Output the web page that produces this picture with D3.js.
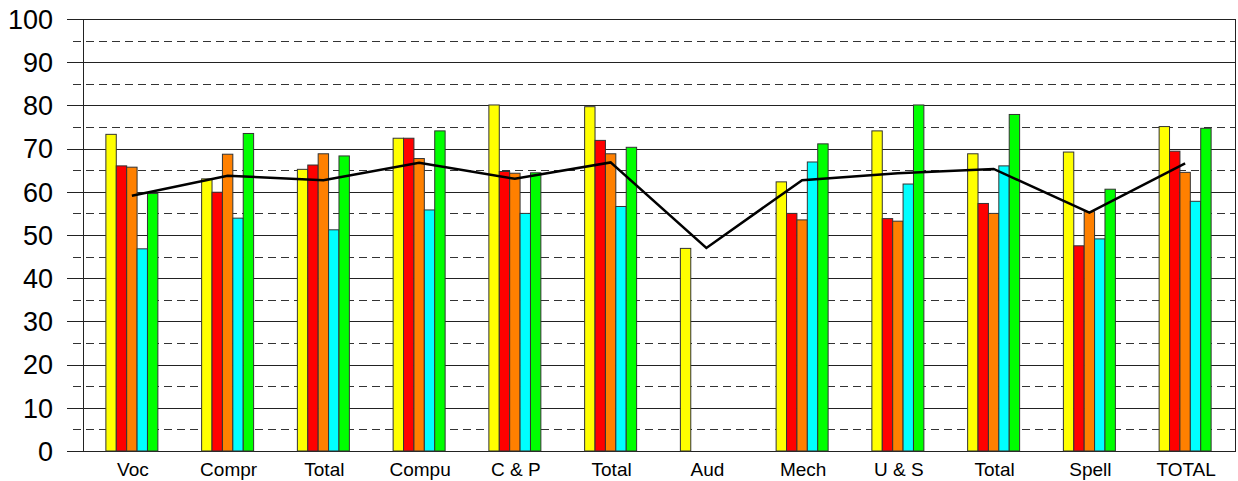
<!DOCTYPE html>
<html>
<head>
<meta charset="utf-8">
<script src="https://cdn.jsdelivr.net/npm/d3@7"></script>
<style>
  body { margin: 0; background: #fff; }
  text { font-family: "Liberation Sans", Arial, sans-serif; }
</style>
</head>
<body>
<div id="chart"></div>
<script>
var width = 1238;
var height = 481;

// data
var categories = ["Voc", "Compr", "Total", "Compu", "C & P", "Total", "Aud", "Mech", "U & S", "Total", "Spell", "TOTAL"];
var seriesNames = ["s1", "s2", "s3", "s4", "s5"];
var seriesColors = ["#ffff00", "#ff0000", "#ff8000", "#00ffff", "#00ff00"];
var s1 = [73.3, 63.0, 65.2, 72.4, 80.1, 79.7, 46.9, 62.3, 74.1, 68.8, 69.2, 75.1];
var s2 = [66.0, 59.9, 66.2, 72.4, 64.7, 71.9, null, 55.0, 53.8, 57.3, 47.5, 69.4];
var s3 = [65.7, 68.7, 68.8, 67.7, 64.3, 68.8, null, 53.5, 53.2, 55.0, 55.4, 64.5];
var s4 = [46.8, 53.9, 51.2, 55.8, 55.0, 56.6, null, 66.9, 61.8, 66.0, 49.1, 57.8];
var s5 = [59.6, 73.5, 68.3, 74.1, 64.4, 70.3, null, 71.1, 80.1, 77.9, 60.6, 74.7];
var lineValues = [59.1, 63.7, 62.7, 66.7, 63.0, 66.8, 47.0, 62.7, 64.3, 65.3, 55.2, 66.6];
var yTicks = [0, 10, 20, 30, 40, 50, 60, 70, 80, 90, 100];
var yHalfTicks = [5, 15, 25, 35, 45, 55, 65, 75, 85, 95];

var allSeries = [s1, s2, s3, s4, s5];

// plot box (window.top is reserved, so use other names)
var plotLeft = 83, plotRight = 1235, plotTop = 19, plotBottom = 451;

var svg = d3.select("#chart").append("svg")
  .attr("width", width)
  .attr("height", height);

var y = d3.scaleLinear().domain([0, 100]).range([plotBottom, plotTop]);
var x = d3.scaleBand().domain(d3.range(categories.length))
  .range([84, 1233])
  .paddingInner(0.457)
  .paddingOuter(0.2285);
var xs = d3.scaleBand().domain(d3.range(seriesNames.length)).range([0, x.bandwidth()]);

// dashed half gridlines
svg.append("g").selectAll("line")
  .data(yHalfTicks)
  .enter().append("line")
  .attr("x1", 73).attr("x2", plotRight)
  .attr("y1", function(d) { return Math.round(y(d)) + 0.5; })
  .attr("y2", function(d) { return Math.round(y(d)) + 0.5; })
  .style("stroke", "#333")
  .style("stroke-width", 1)
  .style("stroke-dasharray", "8,5");

// solid gridlines with ticks
svg.append("g").selectAll("line")
  .data(yTicks)
  .enter().append("line")
  .attr("x1", 67).attr("x2", plotRight)
  .attr("y1", function(d) { return Math.round(y(d)) + 0.5; })
  .attr("y2", function(d) { return Math.round(y(d)) + 0.5; })
  .style("stroke", "#222")
  .style("stroke-width", 1);

// frame
svg.append("rect")
  .attr("x", plotLeft + 0.5).attr("y", plotTop + 0.5)
  .attr("width", plotRight - plotLeft).attr("height", plotBottom - plotTop)
  .style("fill", "none")
  .style("stroke", "#222")
  .style("stroke-width", 1);

// y labels
svg.append("g").selectAll("text")
  .data(yTicks)
  .enter().append("text")
  .attr("x", 53)
  .attr("y", function(d) { return y(d); })
  .attr("dy", "0.36em")
  .attr("text-anchor", "end")
  .style("font-size", "27px")
  .style("fill", "#000")
  .text(function(d) { return d; });

// bars
var groups = svg.append("g").selectAll("g")
  .data(categories)
  .enter().append("g")
  .attr("transform", function(d, i) { return "translate(" + x(i) + ",0)"; });

groups.selectAll("rect")
  .data(function(d, i) {
    return allSeries.map(function(s, k) { return { k: k, v: s[i] }; })
      .filter(function(e) { return e.v != null; });
  })
  .enter().append("rect")
  .attr("x", function(d) { return xs(d.k); })
  .attr("y", function(d) { return y(d.v); })
  .attr("width", xs.bandwidth())
  .attr("height", function(d) { return plotBottom - y(d.v); })
  .style("fill", function(d) { return seriesColors[d.k]; })
  .style("stroke", "#333")
  .style("stroke-width", 1);

// black line
var line = d3.line()
  .x(function(d, i) { return x(i) + x.bandwidth() / 2; })
  .y(function(d) { return y(d); });

svg.append("path")
  .datum(lineValues)
  .attr("d", line)
  .style("fill", "none")
  .style("stroke", "#000")
  .style("stroke-width", 2.5);

// x labels
svg.append("g").selectAll("text")
  .data(categories)
  .enter().append("text")
  .attr("x", function(d, i) { return x(i) + x.bandwidth() / 2 + 1; })
  .attr("y", 476)
  .attr("text-anchor", "middle")
  .style("font-size", "19px")
  .style("fill", "#000")
  .text(function(d) { return d; });
</script>
</body>
</html>
